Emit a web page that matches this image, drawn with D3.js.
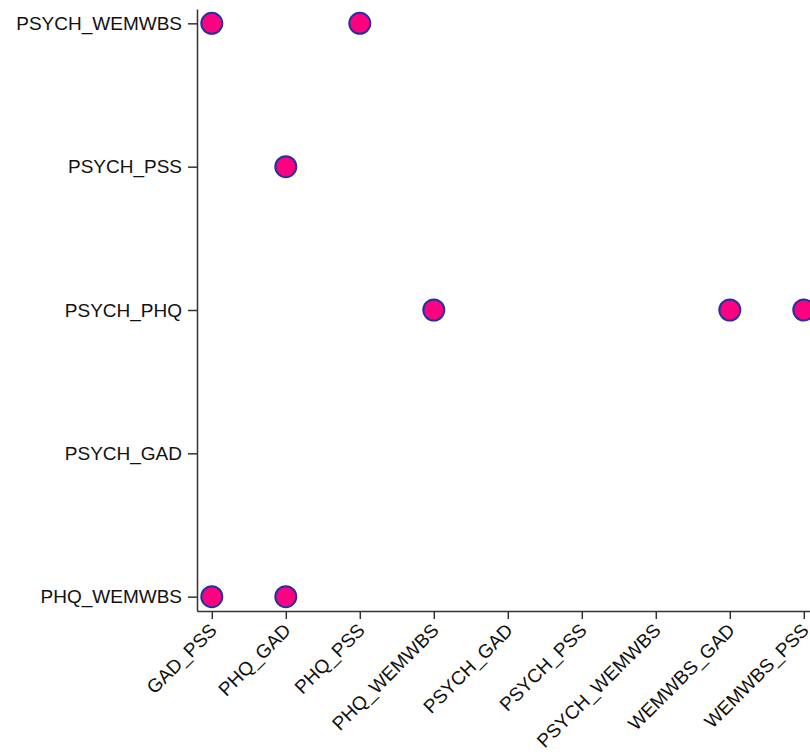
<!DOCTYPE html>
<html>
<head>
<meta charset="utf-8">
<script src="https://cdn.jsdelivr.net/npm/d3@7"></script>
<style>
html,body{margin:0;padding:0;background:#fff;}
svg{display:block;}
.axis text{font-family:"Liberation Sans",Arial,sans-serif;font-size:19px;fill:#111;}
.axis path,.axis line{stroke:#333;stroke-width:1.5px;}
</style>
</head>
<body>
<script>
const xCategories = ["GAD_PSS","PHQ_GAD","PHQ_PSS","PHQ_WEMWBS","PSYCH_GAD","PSYCH_PSS","PSYCH_WEMWBS","WEMWBS_GAD","WEMWBS_PSS"];
const yCategories = ["PHQ_WEMWBS","PSYCH_GAD","PSYCH_PHQ","PSYCH_PSS","PSYCH_WEMWBS"];
const pointX = ["GAD_PSS","PHQ_PSS","PHQ_GAD","PHQ_WEMWBS","WEMWBS_GAD","WEMWBS_PSS","GAD_PSS","PHQ_GAD"];
const pointY = ["PSYCH_WEMWBS","PSYCH_WEMWBS","PSYCH_PSS","PSYCH_PHQ","PSYCH_PHQ","PSYCH_PHQ","PHQ_WEMWBS","PHQ_WEMWBS"];

const W = 810, H = 754;
const svg = d3.select("body").append("svg").attr("width", W).attr("height", H);

const x = d3.scalePoint().domain(xCategories).range([197, 197 + 74 * 8.4]).padding(0.2);
const y = d3.scalePoint().domain(yCategories).range([611, 9]).padding(0.1);

const xAxis = svg.append("g").attr("class","axis").attr("transform","translate(0,611)")
  .call(d3.axisBottom(x).tickSize(8).tickSizeOuter(0));
xAxis.selectAll("text")
  .attr("text-anchor","end")
  .attr("transform","rotate(-45)")
  .attr("dx","-0.55em")
  .attr("dy","0.4em");

const yAxis = svg.append("g").attr("class","axis").attr("transform","translate(197,0)")
  .call(d3.axisLeft(y).tickSize(9).tickSizeOuter(0).tickPadding(6));

const pts = pointX.map((d,i)=>({x:d, y:pointY[i]}));
svg.append("g").selectAll("circle").data(pts).enter().append("circle")
  .attr("cx", d => x(d.x))
  .attr("cy", d => y(d.y))
  .attr("r", 10.5)
  .attr("fill", "#FF0080")
  .attr("stroke", "#2233A0")
  .attr("stroke-width", 2);
</script>
</body>
</html>
